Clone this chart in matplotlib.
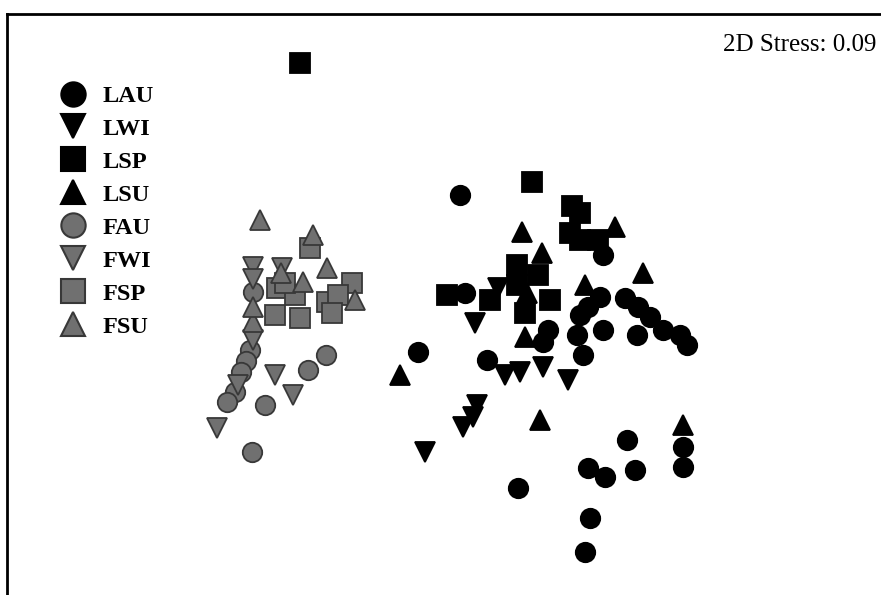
import matplotlib
matplotlib.use("Agg")
import matplotlib.pyplot as plt
from matplotlib.lines import Line2D

plt.rcParams["font.family"] = ["Liberation Serif", "DejaVu Serif"]

# NMDS scores (arbitrary units, axis 2 runs downwards)
LAU_X = [460, 600, 588, 580, 625, 638, 650, 663, 680, 687, 637, 603, 577, 548, 543,
         583, 487, 418, 627, 588, 605, 635, 518, 590, 585, 683, 683, 603, 465]
LAU_Y = [195, 297, 307, 315, 298, 307, 317, 330, 335, 345, 335, 330, 335, 330, 342,
         355, 360, 352, 440, 468, 477, 470, 488, 518, 552, 447, 467, 255, 293]

LWI_X = [475, 505, 520, 543, 568, 477, 473, 463, 425, 498]
LWI_Y = [323, 375, 372, 367, 380, 405, 417, 427, 452, 288]

LSP_X = [300, 532, 572, 580, 570, 580, 598, 517, 538, 517, 447, 490, 525, 550]
LSP_Y = [63, 182, 206, 213, 233, 240, 240, 265, 275, 285, 295, 300, 313, 300]

LSU_X = [615, 522, 542, 643, 585, 527, 400, 525, 540, 683]
LSU_Y = [227, 232, 253, 273, 285, 293, 375, 337, 420, 425]

FAU_X = [253, 250, 246, 241, 235, 227, 252, 265, 308, 326]
FAU_Y = [292, 350, 361, 372, 392, 402, 452, 405, 370, 355]

FWI_X = [253, 253, 282, 253, 238, 217, 275, 293]
FWI_Y = [267, 279, 268, 340, 385, 428, 375, 395]

FSP_X = [310, 277, 295, 275, 300, 352, 327, 338, 332, 285]
FSP_Y = [248, 288, 295, 315, 318, 283, 302, 295, 313, 283]

FSU_X = [260, 313, 327, 303, 281, 355, 253, 253]
FSU_Y = [220, 235, 268, 282, 273, 300, 322, 307]

STRESS = 0.09

BLACK = "#000000"
GREY = "#707070"
GREY_EDGE = "#383838"

groups = [
    ("LAU", LAU_X, LAU_Y, "o", BLACK, BLACK),
    ("LWI", LWI_X, LWI_Y, "v", BLACK, BLACK),
    ("LSP", LSP_X, LSP_Y, "s", BLACK, BLACK),
    ("LSU", LSU_X, LSU_Y, "^", BLACK, BLACK),
    ("FAU", FAU_X, FAU_Y, "o", GREY, GREY_EDGE),
    ("FWI", FWI_X, FWI_Y, "v", GREY, GREY_EDGE),
    ("FSP", FSP_X, FSP_Y, "s", GREY, GREY_EDGE),
    ("FSU", FSU_X, FSU_Y, "^", GREY, GREY_EDGE),
]

W, H = 881, 595
fig = plt.figure(figsize=(W / 100, H / 100), dpi=100)
ax = fig.add_axes([7 / W, 0, 1 - 7 / W, 1 - 14 / H])

handles = []
for name, xs, ys, mk, fc, ec in groups:
    ax.plot(xs, ys, linestyle="none", marker=mk, markersize=14,
            markerfacecolor=fc, markeredgecolor=ec, markeredgewidth=1.3)
    handles.append(Line2D([], [], linestyle="none", marker=mk, markersize=17.5,
                          markerfacecolor=fc, markeredgecolor=ec,
                          markeredgewidth=1.5, label=name))

ax.set_xlim(7, W)
ax.set_ylim(H, 14)
ax.set_xticks([])
ax.set_yticks([])
ax.spines["right"].set_visible(False)
ax.spines["bottom"].set_visible(False)
ax.spines["left"].set_linewidth(2)
ax.spines["top"].set_linewidth(2)

ax.legend(handles=handles, loc="upper left",
          bbox_to_anchor=(61 / W, 1 - 85 / H), bbox_transform=fig.transFigure,
          frameon=False, borderpad=0, borderaxespad=0,
          handlelength=1.0, handletextpad=0.7, labelspacing=0.45,
          prop={"family": "Liberation Serif", "weight": "bold", "size": 17.5})

fig.text(876 / W, 1 - 45 / H, f"2D Stress: {STRESS:.2f}", ha="right", va="center",
         fontsize=18, family="Liberation Serif")

fig.savefig("out.png", dpi=100)
